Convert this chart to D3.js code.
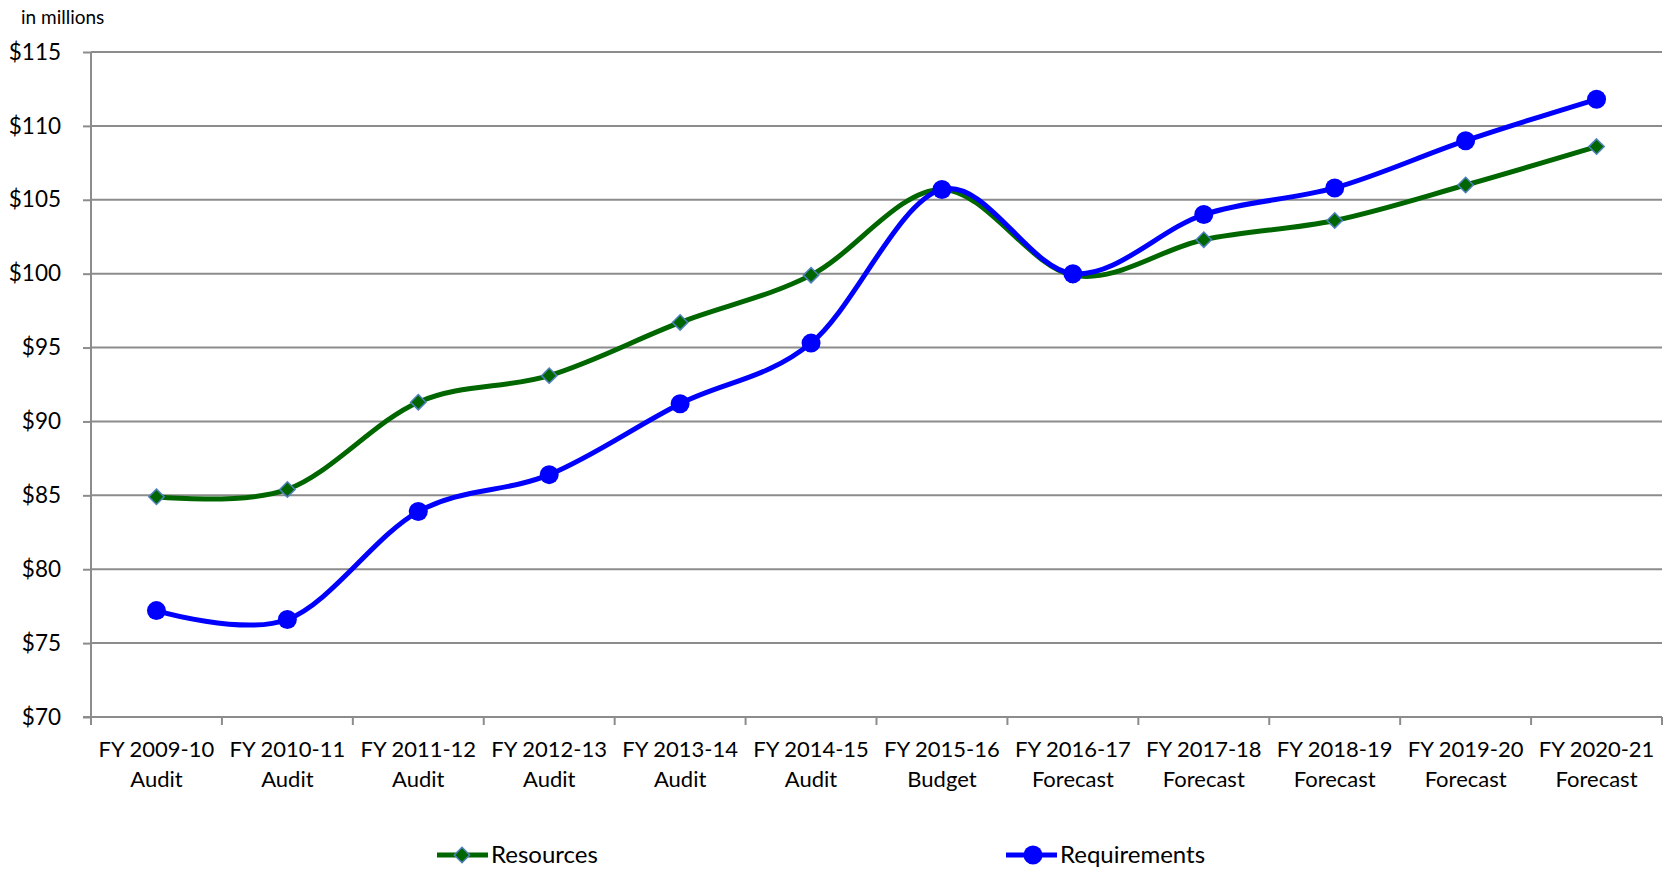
<!DOCTYPE html>
<meta charset="utf-8">
<style>
body { margin: 0; background: #fff; }
text { font-family: Lato, "Liberation Sans", sans-serif; fill: #000; }
.grid line { stroke: #8c8c8c; stroke-width: 2; }
.axis path, .axis line { stroke: #8c8c8c; stroke-width: 2; }
</style>
<script src="https://d3js.org/d3.v7.min.js"></script>
<svg width="1663" height="869"></svg>
<script>

var years = ["FY 2009-10", "FY 2010-11", "FY 2011-12", "FY 2012-13", "FY 2013-14", "FY 2014-15",
             "FY 2015-16", "FY 2016-17", "FY 2017-18", "FY 2018-19", "FY 2019-20", "FY 2020-21"];
var kinds = ["Audit", "Audit", "Audit", "Audit", "Audit", "Audit",
             "Budget", "Forecast", "Forecast", "Forecast", "Forecast", "Forecast"];
var resources = [84.9, 85.4, 91.3, 93.1, 96.7, 99.9, 105.7, 99.9, 102.3, 103.6, 106.0, 108.6];
var requirements = [77.2, 76.6, 83.9, 86.4, 91.2, 95.3, 105.7, 100.0, 104.0, 105.8, 109.0, 111.8];
var yTicks = [70, 75, 80, 85, 90, 95, 100, 105, 110, 115];

var svg = d3.select("svg"),
    margin = {left: 91, top: 52, right: 1, bottom: 152},
    width = +svg.attr("width") - margin.left - margin.right,
    height = +svg.attr("height") - margin.top - margin.bottom;

var x = d3.scaleBand().domain(years).range([0, width]);
var y = d3.scaleLinear().domain([70, 115]).range([height, 0]);

var g = svg.append("g").attr("transform", "translate(" + margin.left + "," + margin.top + ")");

// gridlines
g.append("g").attr("class", "grid")
    .selectAll("line")
    .data(yTicks.slice(1))
    .enter().append("line")
    .attr("x1", 0).attr("x2", width)
    .attr("y1", function(d) { return y(d); })
    .attr("y2", function(d) { return y(d); });

// y axis
var yAxis = g.append("g").attr("class", "axis")
    .call(d3.axisLeft(y).tickValues(yTicks).tickSize(8).tickPadding(22)
        .tickFormat(function(d) { return "$" + d; }));
yAxis.select(".domain").attr("d", "M0," + y(70) + "V" + y(115));
yAxis.selectAll("text").style("font-size", "22.5px");

// x axis, ticks on band edges
var xg = g.append("g").attr("class", "axis").attr("transform", "translate(0," + height + ")");
xg.append("line").attr("x1", -8).attr("x2", width);
xg.selectAll(".tk")
    .data(d3.range(years.length + 1))
    .enter().append("line")
    .attr("x1", function(i) { return i * x.step(); })
    .attr("x2", function(i) { return i * x.step(); })
    .attr("y1", 0).attr("y2", 8);

var lab = xg.selectAll(".lab")
    .data(years)
    .enter().append("text")
    .attr("text-anchor", "middle")
    .style("font-size", "22px")
    .attr("x", function(d) { return x(d) + x.bandwidth() / 2; });
lab.append("tspan").attr("x", function(d) { return x(d) + x.bandwidth() / 2; })
    .attr("y", 40).text(function(d) { return d; });
lab.append("tspan").attr("x", function(d) { return x(d) + x.bandwidth() / 2; })
    .attr("y", 70).text(function(d, i) { return kinds[i]; });

svg.append("text").attr("x", 21).attr("y", 24)
    .style("font-size", "19px").text("in millions");

var line = d3.line()
    .x(function(d, i) { return x(years[i]) + x.bandwidth() / 2; })
    .y(function(d) { return y(d); })
    .curve(d3.curveCatmullRom.alpha(0));

g.append("path").datum(resources)
    .attr("fill", "none").attr("stroke", "#006600").attr("stroke-width", 5)
    .attr("d", line);

g.append("path").datum(requirements)
    .attr("fill", "none").attr("stroke", "#0000ff").attr("stroke-width", 5)
    .attr("d", line);

var diamond = d3.symbol().type(d3.symbolDiamond2).size(150);

g.selectAll(".res")
    .data(resources)
    .enter().append("path")
    .attr("transform", function(d, i) { return "translate(" + (x(years[i]) + x.bandwidth() / 2) + "," + y(d) + ")"; })
    .attr("d", diamond)
    .attr("fill", "#006600").attr("stroke", "#4f81bd").attr("stroke-width", 1.5);

g.selectAll(".req")
    .data(requirements)
    .enter().append("circle")
    .attr("cx", function(d, i) { return x(years[i]) + x.bandwidth() / 2; })
    .attr("cy", function(d) { return y(d); })
    .attr("r", 9.5)
    .attr("fill", "#0000ff");

// legend
var legend = [
    {name: "Resources", x: 437, color: "#006600", mark: "diamond"},
    {name: "Requirements", x: 1006, color: "#0000ff", mark: "circle"}
];
var lg = svg.selectAll(".lg").data(legend).enter().append("g")
    .attr("transform", function(d) { return "translate(" + d.x + ",855)"; });
lg.append("line").attr("x1", 0).attr("x2", 51)
    .attr("stroke", function(d) { return d.color; }).attr("stroke-width", 5);
lg.filter(function(d) { return d.mark == "diamond"; }).append("path")
    .attr("transform", "translate(25,0)")
    .attr("d", diamond)
    .attr("fill", "#006600").attr("stroke", "#4f81bd").attr("stroke-width", 1.5);
lg.filter(function(d) { return d.mark == "circle"; }).append("circle")
    .attr("cx", 27).attr("r", 9.5).attr("fill", "#0000ff");
lg.append("text").attr("x", 54).attr("y", 8)
    .style("font-size", "24px")
    .text(function(d) { return d.name; });

</script>
